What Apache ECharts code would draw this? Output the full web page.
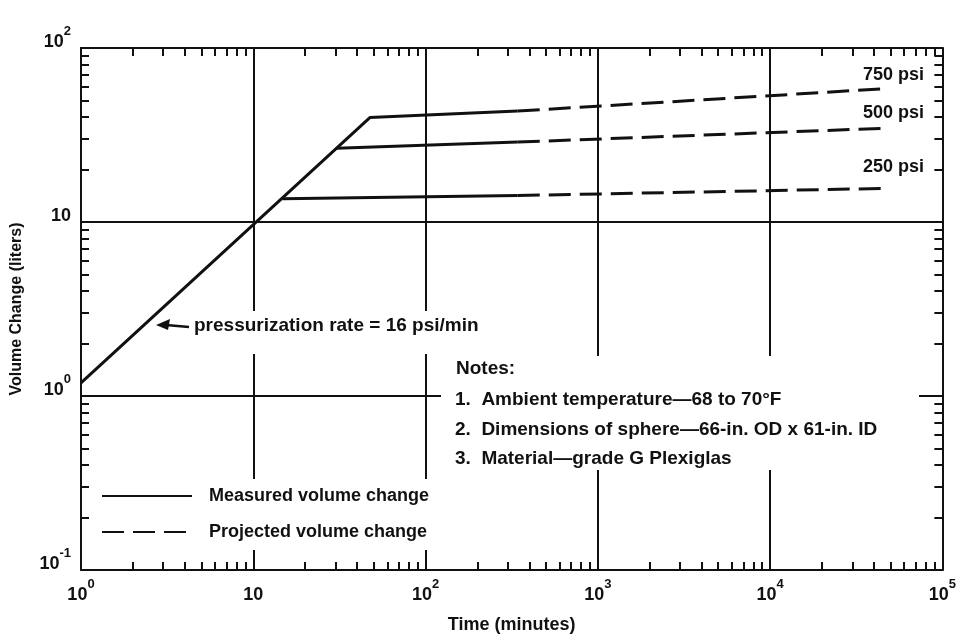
<!DOCTYPE html>
<html>
<head>
<meta charset="utf-8">
<script src="https://cdn.jsdelivr.net/npm/echarts@6/dist/echarts.min.js"></script>
<style>
  html, body { margin: 0; padding: 0; background: #fff; }
  #chart { width: 959px; height: 639px; }
</style>
</head>
<body>
<div id="chart"></div>
<script>
// tick decades (log10) and their printed labels
var xDecades = [0, 1, 2, 3, 4, 5];
var xTickLabels = ['10^0', '10', '10^2', '10^3', '10^4', '10^5'];
var yDecades = [-1, 0, 1, 2];
var yTickLabels = ['10^-1', '10^0', '10', '10^2'];
var minorSteps = [2, 3, 4, 5, 6, 7, 8, 9];

// volume change (liters) against time (minutes)
var measured750 = [[1, 1.19], [47.5, 39.8], [343, 43.4]];
var measured500 = [[30.5, 26.5], [343, 28.8]];
var measured250 = [[14.8, 13.6], [343, 14.2]];
var projected750 = [[343, 43.4], [46800, 58.4]];
var projected500 = [[343, 28.8], [46800, 34.6]];
var projected250 = [[343, 14.2], [46800, 15.6]];

var pressureLabels = ['750 psi', '500 psi', '250 psi'];
var rateNote = 'pressurization rate = 16 psi/min';
var notesTitle = 'Notes:';
var notesLines = [
  '1.  Ambient temperature\u201468 to 70\u00b0F',
  '2.  Dimensions of sphere\u201466-in. OD x 61-in. ID',
  '3.  Material\u2014grade G Plexiglas'
];

var FONT = '"Liberation Sans", Arial, sans-serif';
var INK = '#111';

function supLabel(s) {
  var p = s.split('^');
  return p.length > 1 ? '{b|' + p[0] + '}{s|' + p[1] + '}' : '{b|' + p[0] + '}';
}
function minorValues(decades) {
  var out = [];
  for (var i = 0; i < decades.length - 1; i++) {
    minorSteps.forEach(function (k) { out.push(decades[i] + Math.log10(k)); });
  }
  return out;
}
var richLabel = {
  b: { fontSize: 18, fontWeight: 'bold', lineHeight: 26, verticalAlign: 'bottom', color: INK, fontFamily: FONT },
  s: { fontSize: 13, fontWeight: 'bold', lineHeight: 26, verticalAlign: 'top', color: INK, fontFamily: FONT }
};

var myChart = echarts.init(document.getElementById('chart'));

var solid = { color: INK, width: 3 };
var dashed = { color: INK, width: 3, type: [22, 9] };
function line(name, data, style) {
  return {
    name: name, type: 'line', data: data, symbol: 'none',
    lineStyle: style, itemStyle: { color: INK }, z: 5
  };
}

var minorAxisBase = function (pos, min, max, vals, showLine) {
  return {
    type: 'value', position: pos, min: min, max: max,
    axisLine: { show: showLine, onZero: false, lineStyle: { color: INK, width: 2 } },
    axisTick: { show: true, inside: true, length: 8, customValues: vals, lineStyle: { color: INK, width: 2 } },
    axisLabel: { show: false },
    splitLine: { show: false }
  };
};

function note(x, y, text, extra) {
  var style = { x: x, y: y, text: text, fontSize: 19, fontWeight: 'bold', fontFamily: FONT, fill: INK, verticalAlign: 'middle' };
  for (var k in extra) style[k] = extra[k];
  return { type: 'text', z: 52, style: style };
}

option = {
  animation: false,
  backgroundColor: '#fff',
  grid: { left: 81, top: 48, right: 16, bottom: 67 },
  legend: {
    data: ['Measured volume change', 'Projected volume change'],
    orient: 'vertical',
    left: 95, top: 479,
    padding: [8, 6, 9, 6],
    backgroundColor: '#fff',
    itemWidth: 90, itemHeight: 18, itemGap: 18,
    selectedMode: false,
    itemStyle: { opacity: 0, borderWidth: 0 },
    textStyle: { fontSize: 18, fontWeight: 'bold', color: INK, fontFamily: FONT, padding: [0, 0, 0, 12] }
  },
  xAxis: [
    {
      type: 'log', logBase: 10, min: 1, max: 100000, position: 'bottom',
      name: 'Time (minutes)', nameLocation: 'middle', nameGap: 46,
      nameTextStyle: { fontSize: 18, fontWeight: 'bold', color: INK, fontFamily: FONT },
      axisLine: { onZero: false, lineStyle: { color: INK, width: 2 } },
      axisTick: { show: true, inside: true, length: 18, lineStyle: { color: INK, width: 2 } },
      axisLabel: {
        margin: 8, rich: richLabel,
        formatter: function (v) {
          var e = Math.round(Math.log10(v));
          return supLabel(xTickLabels[xDecades.indexOf(e)]);
        }
      },
      splitLine: { show: true, lineStyle: { color: INK, width: 2 } }
    },
    minorAxisBase('bottom', 0, 5, minorValues(xDecades), false),
    minorAxisBase('top', 0, 5, minorValues(xDecades), true)
  ],
  yAxis: [
    {
      type: 'log', logBase: 10, min: 0.1, max: 100, position: 'left',
      name: 'Volume Change (liters)', nameLocation: 'middle', nameGap: 56,
      nameTextStyle: { fontSize: 16, fontWeight: 'bold', color: INK, fontFamily: FONT },
      axisLine: { onZero: false, lineStyle: { color: INK, width: 2 } },
      axisTick: { show: true, inside: true, length: 14, lineStyle: { color: INK, width: 2 } },
      axisLabel: {
        margin: 10, rich: richLabel, padding: [0, 0, 20, 0],
        formatter: function (v) {
          var e = Math.round(Math.log10(v));
          return supLabel(yTickLabels[yDecades.indexOf(e)]);
        }
      },
      splitLine: { show: true, lineStyle: { color: INK, width: 2 } }
    },
    minorAxisBase('left', -1, 2, minorValues(yDecades), false),
    minorAxisBase('right', -1, 2, minorValues(yDecades), true)
  ],
  series: [
    line('Measured volume change', measured750, solid),
    line('Measured volume change', measured500, solid),
    line('Measured volume change', measured250, solid),
    line('Projected volume change', projected750, dashed),
    line('Projected volume change', projected500, dashed),
    line('Projected volume change', projected250, dashed)
  ],
  graphic: [
    // blank areas behind the annotations (the grid lines are broken there)
    { type: 'rect', z: 50, shape: { x: 188, y: 311, width: 300, height: 43 }, style: { fill: '#fff' } },
    { type: 'rect', z: 50, shape: { x: 441, y: 356, width: 478, height: 114 }, style: { fill: '#fff' } },
    // arrow to the pressurization line
    { type: 'polygon', z: 51, shape: { points: [[156, 325], [170, 319], [168, 330]] }, style: { fill: INK } },
    { type: 'line', z: 51, shape: { x1: 166, y1: 325, x2: 189, y2: 327 }, style: { stroke: INK, lineWidth: 2.5 } },
    note(194, 326, rateNote),
    note(456, 369, notesTitle),
    note(455, 400, notesLines[0]),
    note(455, 430, notesLines[1]),
    note(455, 459, notesLines[2]),
    note(924, 75, pressureLabels[0], { align: 'right', fontSize: 18 }),
    note(924, 113, pressureLabels[1], { align: 'right', fontSize: 18 }),
    note(924, 167, pressureLabels[2], { align: 'right', fontSize: 18 })
  ]
};

myChart.setOption(option);
</script>
</body>
</html>
